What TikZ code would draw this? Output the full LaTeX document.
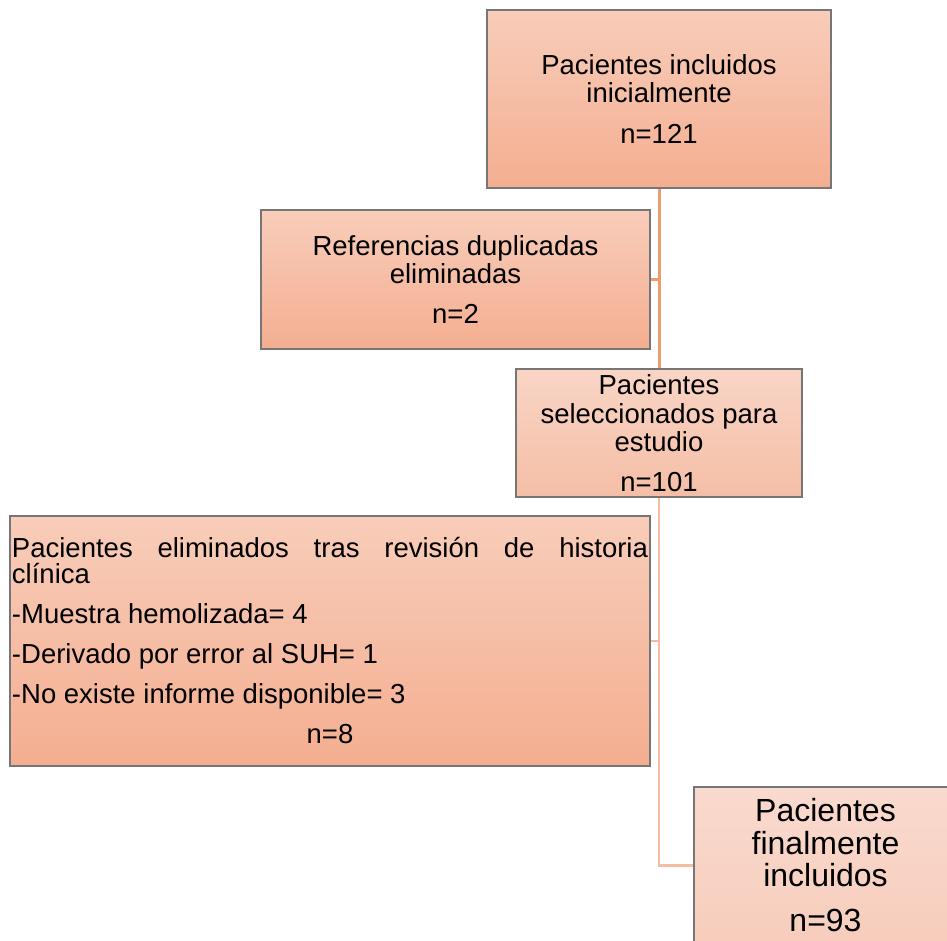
\documentclass[tikz,border=0pt]{standalone}
\usepackage{fontspec}
\setmainfont{Liberation Sans}
\definecolor{Edge}{HTML}{767676}
\definecolor{Link}{HTML}{F2996E}
\definecolor{LinkLight}{HTML}{F5BCA4}
\definecolor{PeachTop}{HTML}{F8CDBA}
\definecolor{PeachBot}{HTML}{F4AE90}
\definecolor{PaleTop}{HTML}{F9D5C6}
\definecolor{PaleBot}{HTML}{F5BEA6}
\definecolor{BlushTop}{HTML}{F9DACE}
\definecolor{BlushBot}{HTML}{F7CDBC}
\usetikzlibrary{backgrounds}

\begin{document}
\begin{tikzpicture}[
    x=1pt, y=-1pt,
    box/.style={
      draw=Edge, line width=1.3pt, align=center, inner sep=2pt,
      top color=PeachTop, bottom color=PeachBot,
      font=\fontsize{27.5}{28.5}\selectfont
    },
    link/.style={Link, line width=3pt},
    linklight/.style={LinkLight, line width=2.6pt}
  ]
    \useasboundingbox (0,0) rectangle (947,941);
    \node[box, minimum width=344pt, minimum height=178pt] (a) at (659,99)
      {Pacientes incluidos\\inicialmente\\[12pt]n=121};
    \node[box, minimum width=389pt, minimum height=139pt] (b) at (455.5,279.5)
      {Referencias duplicadas\\eliminadas\\[11pt]n=2};
    \node[box, minimum width=286pt, minimum height=128pt,
          top color=PaleTop, bottom color=PaleBot] (c) at (659,433)
      {Pacientes\\seleccionados para\\estudio\\[11pt]n=101};
    \node[box, minimum width=640pt, minimum height=250pt, align=justify,
          text width=636pt, font=\fontsize{27.5}{26}\selectfont] (d) at (330,641)
      {\parindent=0pt\parskip=14pt\hyphenpenalty=10000
       Pacientes eliminados tras revisión de historia\linebreak clínica\par
       -Muestra hemolizada= 4\par
       -Derivado por error al SUH= 1\par
       -No existe informe disponible= 3\par
       {\centering n=8\par}};
    \node[box, minimum width=263pt, minimum height=157pt,
          top color=BlushTop, bottom color=BlushBot,
          font=\fontsize{32}{32.5}\selectfont] (e) at (825.5,865.5)
      {Pacientes\\finalmente\\incluidos\\[12.5pt]n=93};
    \begin{scope}[on background layer]
      \draw[link] (a.south) -- (c.north);
      \draw[link] (b.east) -- (b.east -| a.south);
      \draw[linklight] (c.south) |- (e.west);
      \draw[linklight] (d.east) -- (d.east -| c.south);
    \end{scope}
  \end{tikzpicture}
\end{document}
